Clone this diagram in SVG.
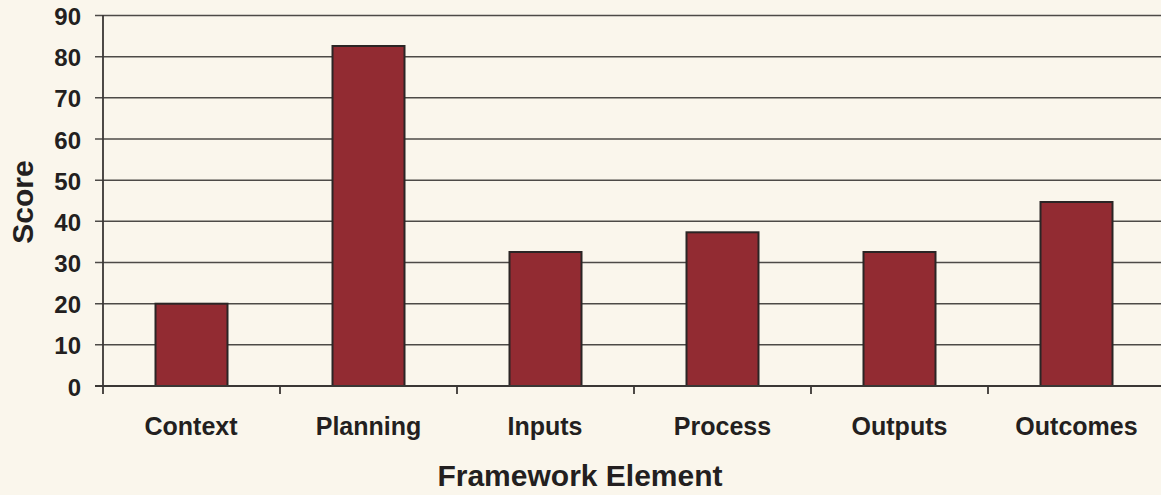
<svg xmlns="http://www.w3.org/2000/svg" width="1161" height="495" viewBox="0 0 1161 495">
<style>
.grid{stroke:#4d4a47;stroke-width:1.6;fill:none}
.axis{stroke:#3a3735;stroke-width:1.8;fill:none}
.bar{fill:#922b32;stroke:#2b2525;stroke-width:2}
.tick{font-family:"Liberation Sans",Arial,sans-serif;font-weight:bold;font-size:24px;fill:#231f20;text-anchor:end}
.cat{font-family:"Liberation Sans",Arial,sans-serif;font-weight:bold;font-size:25px;fill:#231f20;text-anchor:middle}
.title{font-family:"Liberation Sans",Arial,sans-serif;font-weight:bold;font-size:30px;fill:#231f20;text-anchor:middle}
</style>
<rect x="0" y="0" width="1161" height="495" fill="#faf6ec"/>
<g id="gridlines">
<line class="grid" x1="95" y1="15.5" x2="1161" y2="15.5"/>
<line class="grid" x1="95" y1="56.7" x2="1161" y2="56.7"/>
<line class="grid" x1="95" y1="97.8" x2="1161" y2="97.8"/>
<line class="grid" x1="95" y1="139" x2="1161" y2="139"/>
<line class="grid" x1="95" y1="180.2" x2="1161" y2="180.2"/>
<line class="grid" x1="95" y1="221.3" x2="1161" y2="221.3"/>
<line class="grid" x1="95" y1="262.5" x2="1161" y2="262.5"/>
<line class="grid" x1="95" y1="303.7" x2="1161" y2="303.7"/>
<line class="grid" x1="95" y1="344.8" x2="1161" y2="344.8"/>
</g>
<g id="y-labels">
<text class="tick" x="81" y="25">90</text>
<text class="tick" x="81" y="66.2">80</text>
<text class="tick" x="81" y="107.3">70</text>
<text class="tick" x="81" y="148.5">60</text>
<text class="tick" x="81" y="189.7">50</text>
<text class="tick" x="81" y="230.8">40</text>
<text class="tick" x="81" y="272">30</text>
<text class="tick" x="81" y="313.2">20</text>
<text class="tick" x="81" y="354.3">10</text>
<text class="tick" x="81" y="395.5">0</text>
</g>
<g id="bar-context"><rect class="bar" x="155.5" y="303.7" width="72" height="82.3"/></g>
<g id="bar-planning"><rect class="bar" x="332.5" y="46" width="72" height="340"/></g>
<g id="bar-inputs"><rect class="bar" x="509.5" y="252" width="72" height="134"/></g>
<g id="bar-process"><rect class="bar" x="686.5" y="232.3" width="72" height="153.7"/></g>
<g id="bar-outputs"><rect class="bar" x="863.5" y="252" width="72" height="134"/></g>
<g id="bar-outcomes"><rect class="bar" x="1040.5" y="202" width="72" height="184"/></g>
<g id="axes">
<line class="axis" x1="103" y1="15" x2="103" y2="394"/>
<line class="axis" x1="95" y1="386" x2="1161" y2="386"/>
<line class="axis" x1="280" y1="386" x2="280" y2="394"/>
<line class="axis" x1="457" y1="386" x2="457" y2="394"/>
<line class="axis" x1="634" y1="386" x2="634" y2="394"/>
<line class="axis" x1="811" y1="386" x2="811" y2="394"/>
<line class="axis" x1="988" y1="386" x2="988" y2="394"/>
</g>
<g id="x-labels">
<text class="cat" x="191" y="435">Context</text>
<text class="cat" x="368.5" y="435">Planning</text>
<text class="cat" x="545" y="435">Inputs</text>
<text class="cat" x="722.5" y="435">Process</text>
<text class="cat" x="899.5" y="435">Outputs</text>
<text class="cat" x="1076.5" y="435">Outcomes</text>
</g>
<g id="axis-titles">
<text class="title" x="580" y="486">Framework Element</text>
<text class="title" transform="translate(33,202) rotate(-90)">Score</text>
</g>
</svg>
